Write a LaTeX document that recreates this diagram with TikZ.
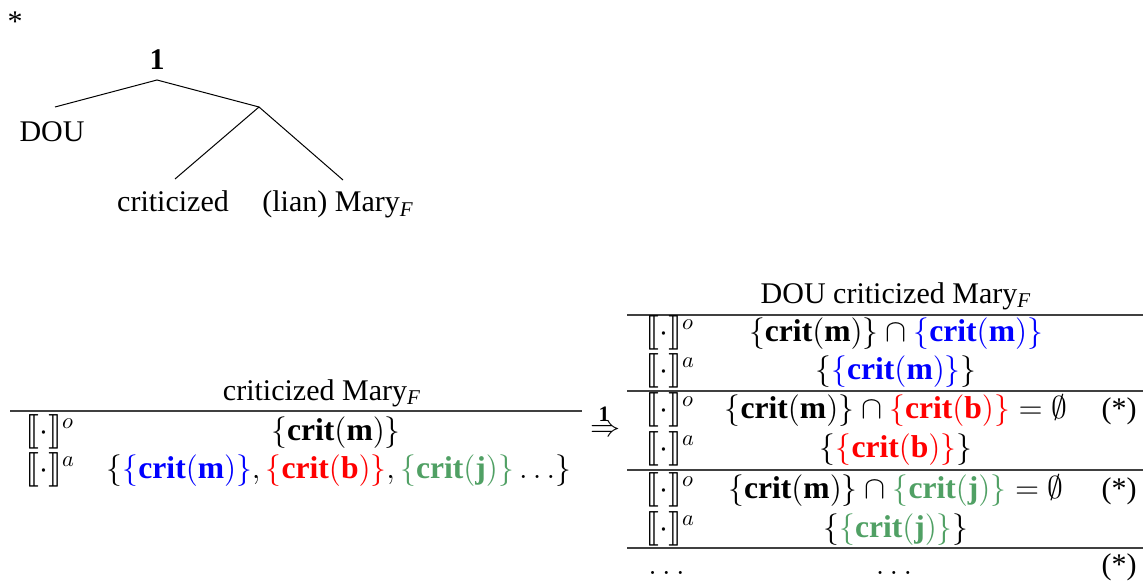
\documentclass[tikz,border=0pt]{standalone}
\usepackage{fix-cm}
\usepackage{fontspec}
\setmainfont{Liberation Serif}
\usepackage{stmaryrd}
\definecolor{myblue}{RGB}{0,0,255}
\definecolor{myred}{RGB}{255,0,0}
\definecolor{mygreen}{RGB}{80,160,100}
\newcommand{\crt}[1]{\textbf{crit}(\textbf{#1})}
\newcommand{\sst}[1]{\{\crt{#1}\}}
\newcommand{\dnot}[1]{$\llbracket\cdot\rrbracket^{#1}$}
\begin{document}
\begin{tikzpicture}[x=0.5pt,y=-0.5pt,
  txt/.style={inner sep=0pt, anchor=base, font=\fontsize{15}{18}\selectfont},
  fml/.style={inner sep=0pt, anchor=base, font=\fontsize{15.8}{19}\selectfont},
  den/.style={inner sep=0pt, anchor=base west, font=\fontsize{16}{19}\selectfont},
  ctr/.style={inner sep=0pt, font=\fontsize{15}{18}\selectfont},
  edge/.style={line width=0.5pt},
  rule/.style={line width=0.7pt, black!75}]
\useasboundingbox (0,0) rectangle (1143,582);
% star and tree
\node[ctr] (star) at (15,22) {*};
\node[txt] (one) at (157,70) {\textbf{1}};
\coordinate (top) at (157,80);
\coordinate (mid) at (259,107);
\coordinate (douend) at (55,107);
\coordinate (critend) at (175,179);
\coordinate (maryend) at (343,180);
\node[txt] (dou) at (52,142) {DOU};
\node[txt] (crit) at (173,212) {criticized};
\node[txt, anchor=base west] (mary) at (262,212) {(lian) Mary\textsubscript{\textit{F}}};
\draw[edge] (douend) -- (top) -- (mid);
\draw[edge] (critend) -- (mid) -- (maryend);
% left table
\node[txt] (lt) at (322,400) {criticized Mary\textsubscript{\textit{F}}};
\coordinate (ll1) at (10,411);
\coordinate (ll2) at (582,411);
\draw[rule] (ll1) -- (ll2);
\node[den] (lo) at (25,440) {\dnot{o}};
\node[fml] (lof) at (336,440) {$\sst{m}$};
\node[den] (la) at (25,478) {\dnot{a}};
\node[fml] (laf) at (339,478) {$\{\textcolor{myblue}{\sst{m}},\textcolor{myred}{\sst{b}},\textcolor{mygreen}{\sst{j}}\ldots\}$};
% arrow
\node[ctr] (arr) at (605,431) {$\Rightarrow$};
\node[ctr, font=\fontsize{11}{13}\selectfont] (arrlab) at (604,414) {\textbf{1}};
% right table
\node[txt] (rt) at (896,303) {DOU criticized Mary\textsubscript{\textit{F}}};
\coordinate (r1a) at (627,315); \coordinate (r1b) at (1143,315);
\coordinate (r2a) at (627,391); \coordinate (r2b) at (1143,391);
\coordinate (r3a) at (627,470); \coordinate (r3b) at (1143,470);
\coordinate (r4a) at (627,548); \coordinate (r4b) at (1143,548);
\draw[rule] (r1a) -- (r1b);
\draw[rule] (r2a) -- (r2b);
\draw[rule] (r3a) -- (r3b);
\draw[rule] (r4a) -- (r4b);
\node[den] (ro1) at (645,341) {\dnot{o}};
\node[fml] (rf1) at (896,341) {$\sst{m}\cap\textcolor{myblue}{\sst{m}}$};
\node[den] (ra1) at (645,379) {\dnot{a}};
\node[fml] (rg1) at (896,379) {$\{\textcolor{myblue}{\sst{m}}\}$};
\node[den] (ro2) at (645,418) {\dnot{o}};
\node[fml] (rf2) at (896,418) {$\sst{m}\cap\textcolor{myred}{\sst{b}}=\emptyset$};
\node[txt] (rs2) at (1119,418) {(*)};
\node[den] (ra2) at (645,457) {\dnot{a}};
\node[fml] (rg2) at (896,457) {$\{\textcolor{myred}{\sst{b}}\}$};
\node[den] (ro3) at (645,498) {\dnot{o}};
\node[fml] (rf3) at (896,498) {$\sst{m}\cap\textcolor{mygreen}{\sst{j}}=\emptyset$};
\node[txt] (rs3) at (1119,498) {(*)};
\node[den] (ra3) at (645,537) {\dnot{a}};
\node[fml] (rg3) at (896,537) {$\{\textcolor{mygreen}{\sst{j}}\}$};
\node[fml, anchor=base west] (rd1) at (648,574) {$\ldots$};
\node[fml] (rd2) at (894,574) {$\ldots$};
\node[txt] (rs4) at (1119,574) {(*)};
\end{tikzpicture}
\end{document}
